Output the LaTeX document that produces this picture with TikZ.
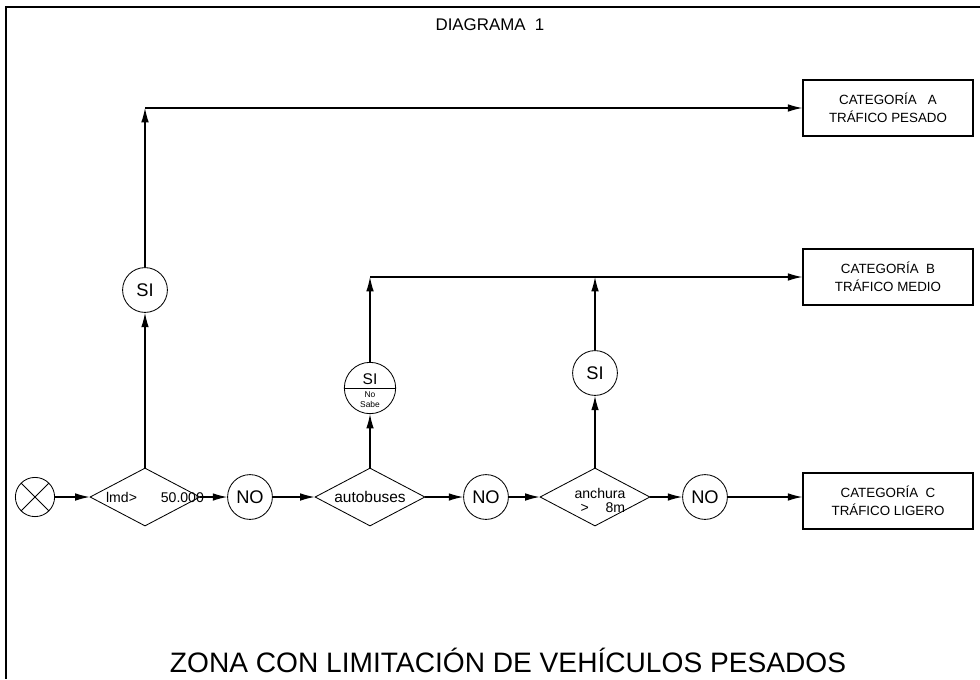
\documentclass[tikz,border=0pt]{standalone}
\usepackage{fontspec}
\setmainfont{Liberation Sans}
\usetikzlibrary{shapes.geometric,shapes.multipart,arrows.meta}
\tikzset{
    flecha/.style={-{Latex[length=3.6mm,width=1.9mm]}, line width=0.8pt},
    rombo/.style={draw, diamond, minimum width=2.75cm, minimum height=1.45cm, inner sep=0pt, line width=0.6pt},
    circulo/.style={draw, circle, minimum size=1.12cm, inner sep=0pt, line width=0.6pt, font=\fontsize{13}{13}\selectfont},
    categoria/.style={draw, rectangle, minimum width=4.25cm, minimum height=1.4cm, line width=0.9pt, align=center, font=\fontsize{9.5}{13}\selectfont},
    texto/.style={inner sep=0pt, align=center, font=\fontsize{10}{11}\selectfont},
}
\begin{document}
\begin{tikzpicture}[x=0.025cm, y=-0.025cm]
    \useasboundingbox (0,0) rectangle (980,679);
    \draw[line width=1.5pt] (980,7) -- (6,7) -- (6,679); % marco
    \node (titulo) at (490,25) {\fontsize{12}{12}\selectfont DIAGRAMA\ \ 1};
    \node (pie) at (508,660) {\fontsize{20}{20}\selectfont ZONA CON LIMITACIÓN DE VEHÍCULOS PESADOS};
    % fila principal
    \node[circulo, minimum size=0.98cm, path picture={\draw (path picture bounding box.south west) -- (path picture bounding box.north east)
        (path picture bounding box.north west) -- (path picture bounding box.south east);}] (inicio) at (35,497) {};
    \node[rombo] (imd) at (145,497) {};
    \node[texto] (imdtxt) at (155,497) {lmd>\hspace{17pt}50.000};
    \node[circulo] (no1) at (250,497) {NO};
    \node[rombo] (bus) at (370,497) {};
    \node[texto, font=\fontsize{11}{11}\selectfont] (bustxt) at (370,497) {autobuses};
    \node[circulo] (no2) at (486,497) {NO};
    \node[rombo] (ancho) at (595,497) {};
    \node[texto] (anchotxt) at (600,500) {anchura\\[-1pt]\hspace{4pt}>\hspace{12pt}8m};
    \node[circulo] (no3) at (705,497) {NO};
    % respuestas
    \node[circulo] (si1) at (145,290) {SI};
    \node[draw, circle split, minimum size=1.15cm, inner sep=2pt, line width=0.6pt] (sinosabe) at (370,388)
        {\fontsize{11}{11}\selectfont SI \nodepart{lower} \fontsize{6}{6}\selectfont\shortstack{No\\Sabe}};
    \node[circulo] (si3) at (595,373) {SI};
    % categorias
    \node[categoria] (catA) at (888,108) {CATEGORÍA\ \ \ A\\TRÁFICO PESADO};
    \node[categoria] (catB) at (888,277) {CATEGORÍA\ \ B\\TRÁFICO MEDIO};
    \node[categoria] (catC) at (888,501) {CATEGORÍA\ \ C\\TRÁFICO LIGERO};
    \coordinate (esqA) at (imd |- catA);
    \coordinate (esqB) at (bus |- catB);
    \coordinate (uneB) at (ancho |- catB);
    % conexiones
    \draw[flecha] (inicio) -- (imd);
    \draw[flecha] (imd) -- (no1);
    \draw[flecha] (no1) -- (bus);
    \draw[flecha] (bus) -- (no2);
    \draw[flecha] (no2) -- (ancho);
    \draw[flecha] (ancho) -- (no3);
    \draw[flecha] (no3) -- (no3 -| catC.west);
    \draw[flecha] (imd) -- (si1);
    \draw[flecha] (si1) -- (esqA);
    \draw[flecha] (esqA) -- (catA);
    \draw[flecha] (bus) -- (sinosabe);
    \draw[flecha] (sinosabe) -- (esqB);
    \draw[flecha] (esqB) -- (catB);
    \draw[flecha] (ancho) -- (si3);
    \draw[flecha] (si3) -- (uneB);
\end{tikzpicture}
\end{document}
